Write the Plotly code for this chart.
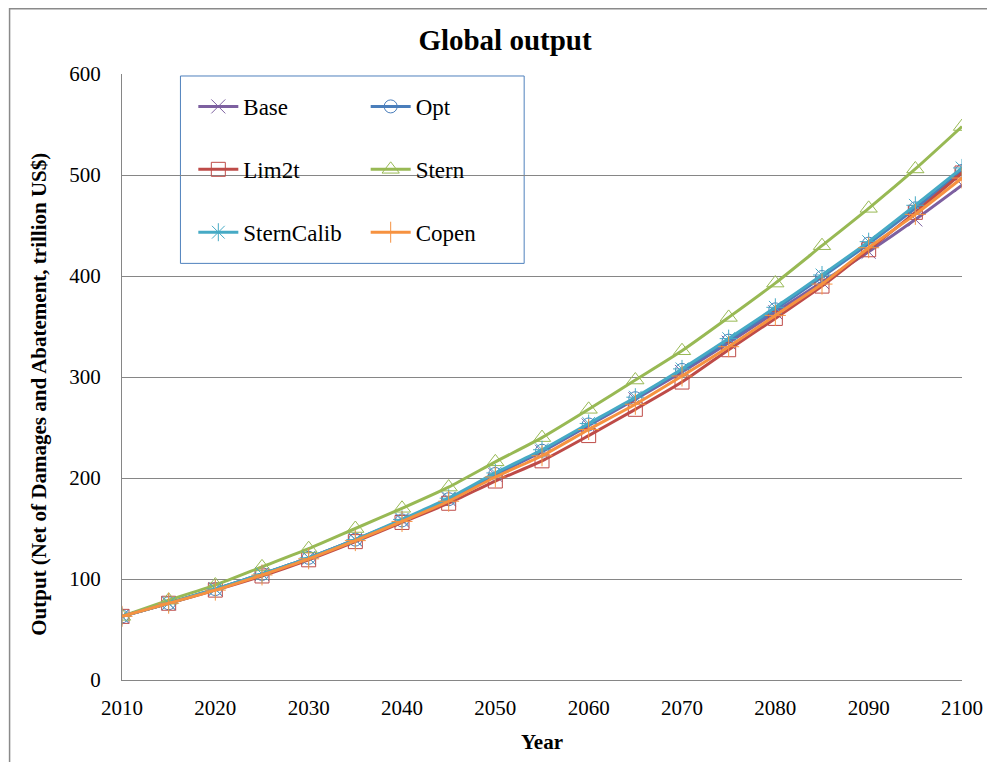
import plotly.graph_objects as go

years = [2010, 2015, 2020, 2025, 2030, 2035, 2040, 2045, 2050, 2055,
         2060, 2065, 2070, 2075, 2080, 2085, 2090, 2095, 2100]

base = [63, 76, 90, 105, 121, 139, 158, 179, 203, 226, 252, 278, 305, 334, 364, 394, 424, 456, 490]
opt = [63, 76, 90, 105, 121, 139, 158, 179, 204, 227, 253, 279, 307, 336, 367, 399, 432, 467, 504]
lim2t = [63, 76, 89, 103, 119, 137, 156, 175, 197, 217, 242, 268, 295, 327, 358, 390, 426, 463, 502]
stern = [63, 79, 94, 112, 130, 150, 170, 191, 216, 240, 268, 297, 326, 359, 393, 430, 467, 506, 548]
sterncalib = [63, 76, 90, 105, 121, 139, 159, 180, 205, 228, 254, 280, 308, 338, 369, 401, 434, 470, 507]
copen = [63, 76, 89, 104, 120, 138, 157, 177, 201, 222, 248, 273, 301, 330, 361, 392, 428, 461, 497]

x_ticks = list(range(2010, 2101, 10))
y_ticks = list(range(0, 601, 100))

series = [
    ("Base", base, "#7D60A0", "x-thin-open", 14, "legend", 1),
    ("Opt", opt, "#4A7EBB", "circle-open", 13, "legend2", 2),
    ("Lim2t", lim2t, "#BE4B48", "square-open", 14, "legend", 3),
    ("Stern", stern, "#98B954", "triangle-up-open", 15, "legend2", 4),
    ("SternCalib", sterncalib, "#46AAC5", "asterisk-open", 15, "legend", 5),
    ("Copen", copen, "#F69240", "cross-thin-open", 15, "legend2", 6),
]

FONT = "Liberation Serif"

fig = go.Figure()
for name, vals, color, sym, size, leg, grp in series:
    fig.add_trace(go.Scatter(
        x=years, y=vals, name=name, mode="lines+markers",
        line=dict(color=color, width=3, shape="spline", smoothing=0.6),
        marker=dict(symbol=sym, size=size, color=color, line=dict(width=1, color=color)),
        legend=leg, legendgroup=str(grp),
    ))

legend_common = dict(
    font=dict(family=FONT, size=23, color="#000000"),
    bgcolor="rgba(0,0,0,0)", borderwidth=0,
    tracegroupgap=30, xanchor="left", yanchor="top",
    itemwidth=40,
)

# The page body adds an 8px offset; the figure is sized so the plot area
# lands at x 122..966, y 74..682 in the 995x762 window.
fig.update_layout(
    width=987, height=754,
    margin=dict(l=114, r=25, t=66, b=80),
    paper_bgcolor="white", plot_bgcolor="white",
    font=dict(family=FONT, size=20, color="#000000"),
    title=dict(text="<b>Global output</b>", x=(505 - 8) / 987, xanchor="center",
               y=1 - (40 - 8) / 754, yanchor="middle",
               font=dict(family=FONT, size=29, color="#000000")),
    xaxis=dict(range=[2010, 2100], tickmode="array", tickvals=x_ticks,
               showgrid=False, zeroline=False, showline=True, linecolor="#868686", linewidth=1,
               ticks="", tickfont=dict(family=FONT, size=21), ticklabelstandoff=9,
               title=dict(text="<b>Year</b>", font=dict(family=FONT, size=21), standoff=15)),
    yaxis=dict(range=[0, 600], tickmode="array", tickvals=y_ticks,
               showgrid=True, gridcolor="#868686", gridwidth=1, zeroline=False,
               showline=True, linecolor="#868686", linewidth=1, ticks="",
               tickfont=dict(family=FONT, size=21), ticklabelstandoff=16),
    legend=dict(x=(194 - 122) / 848, y=(682 - 85) / 608, **legend_common),
    legend2=dict(x=(368 - 122) / 848, y=(682 - 85) / 608, **legend_common),
    showlegend=True,
)

fig.add_annotation(
    text="<b>Output (Net of Damages and Abatement, trillion US$)</b>",
    xref="paper", yref="paper",
    x=(38 - 122) / 848, y=(682 - 395) / 608,
    xanchor="center", yanchor="middle", textangle=-90, showarrow=False,
    font=dict(family=FONT, size=21, color="#000000"),
)

# Legend frame and chart outer border
fig.add_shape(type="rect", xref="paper", yref="paper",
              x0=(181 - 122) / 848, x1=(528 - 122) / 848,
              y0=(682 - 264) / 608, y1=(682 - 76) / 608,
              line=dict(color="#4F81BD", width=1), fillcolor="white", layer="below")
fig.add_shape(type="rect", xref="paper", yref="paper",
              x0=(8.5 - 122) / 848, x1=(1010 - 122) / 848,
              y0=(682 - 780) / 608, y1=(682 - 8.5) / 608,
              line=dict(color="#8A8A8A", width=1.5), layer="below")

fig.write_html("out.html")
